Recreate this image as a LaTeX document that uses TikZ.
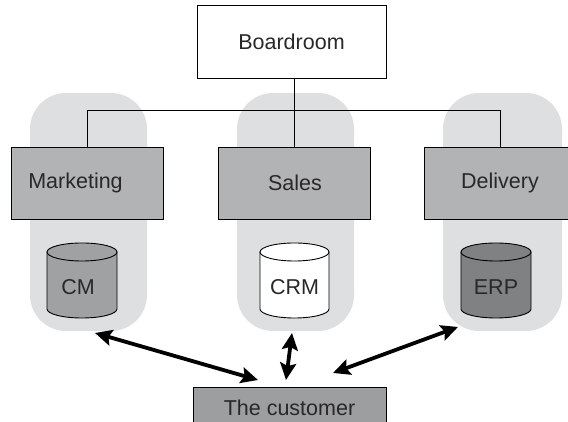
\documentclass[tikz,border=0pt]{standalone}
\usepackage{fontspec}
\setmainfont{Liberation Sans}
\usetikzlibrary{arrows.meta}
\definecolor{colfill}{RGB}{222,223,225}
\definecolor{boxfill}{RGB}{178,179,181}
\definecolor{cmfill}{RGB}{160,161,163}
\definecolor{erpfill}{RGB}{128,129,131}
\definecolor{custfill}{RGB}{157,158,160}
\definecolor{txt}{RGB}{40,40,40}
\tikzset{
  column/.style={fill=colfill, draw=none, rounded corners=36pt},
  deptbox/.style={draw=black, line width=0.9pt, fill=boxfill, minimum width=152pt, minimum height=72pt, inner sep=0pt},
  lbl/.style={font=\fontsize{21.5}{24}\selectfont, text=txt, inner sep=0pt},
  cyl/.style={draw=black, line width=0.9pt},
  link/.style={draw=black, line width=0.9pt},
  bigarrow/.style={line width=3.8pt, {Stealth[length=17pt,width=16pt,inset=3pt]}-{Stealth[length=17pt,width=16pt,inset=3pt]}},
}
\newcommand{\mycyl}[3]{% left x, right x, fill
  \path[cyl, fill=#3] (#1,170) -- (#1,113) arc[start angle=180, end angle=360, x radius={(#2-#1)/2}, y radius=9] -- (#2,170) -- cycle;
  \path[cyl, fill=#3] ({(#1+#2)/2},170) ellipse[x radius={(#2-#1)/2}, y radius=9];
}
\begin{document}
\begin{tikzpicture}[x=1pt, y=1pt]
\useasboundingbox (0,0) rectangle (568,422);
% columns
\fill[column] (30,91) rectangle (147,329);
\fill[column] (237,91) rectangle (354,329);
\fill[column] (443,91) rectangle (562,329);
% boardroom
\node[draw=black, line width=0.9pt, fill=white, minimum width=189pt, minimum height=73pt, inner sep=0pt] (board) at (291.5,380.5) {};
\node[lbl] (boardtxt) at (291.5,380.5) {Boardroom};
% department boxes
\node[deptbox] (mkt) at (87,239) {};
\node[deptbox] (sales) at (294,239) {};
\node[deptbox] (del) at (500,239) {};
\node[lbl] (mkttxt) at (75.5,239) {Marketing};
\node[lbl] (salestxt) at (295,239) {Sales};
\node[lbl] (deltxt) at (500,239) {Delivery};
% connectors
\coordinate (junc) at (87,312);
\draw[link] (mkt.north) |- (junc) -| (del.north);
\draw[link] (sales.north) -- (sales.north |- board.south);
% cylinders
\mycyl{47}{117}{cmfill}
\mycyl{260}{329}{white}
\mycyl{461}{531}{erpfill}
\node[lbl] (cmtxt) at (78,134.5) {CM};
\node[lbl] (crmtxt) at (294.5,134.5) {CRM};
\node[lbl] (erptxt) at (496,134.5) {ERP};
% customer
\node[draw=black, line width=0.9pt, fill=custfill, minimum width=193pt, minimum height=42pt, inner sep=0pt] (cust) at (289.5,14) {};
\node[lbl] (custtxt) at (289.5,14.5) {The customer};
% arrows
\coordinate (a1) at (95,89);
\coordinate (a1e) at (258,42);
\coordinate (a2) at (292,89);
\coordinate (a2e) at (286,42);
\coordinate (a3) at (458,95);
\coordinate (a3e) at (333,49);
\draw[bigarrow] (a1) -- (a1e);
\draw[bigarrow] (a2) -- (a2e);
\draw[bigarrow] (a3) -- (a3e);
\end{tikzpicture}
\end{document}
